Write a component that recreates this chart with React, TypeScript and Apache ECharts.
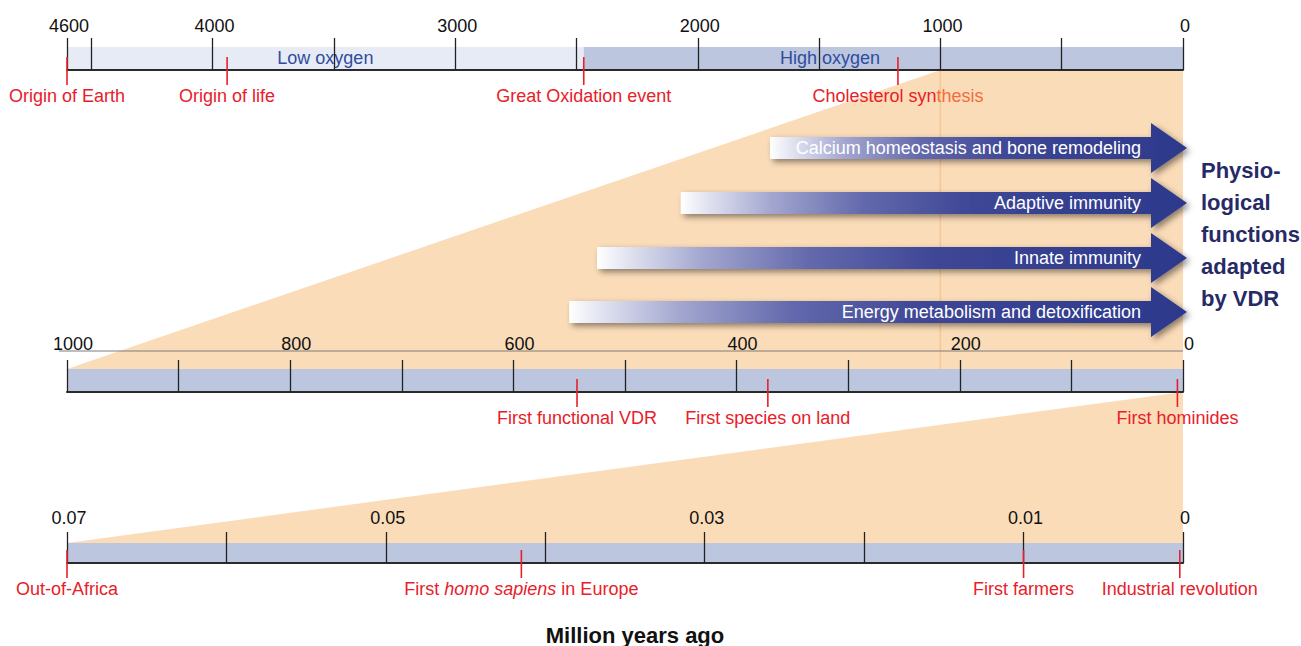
import React, { useEffect, useRef } from 'react';
import * as echarts from 'echarts';

// ---------- data ----------
const topTicks = [4600, 4500, 4000, 3500, 3000, 2500, 2000, 1500, 1000, 500, 0];
const topLabels = [4600, 4000, 3000, 2000, 1000, 0];
const midTicks = [1000, 900, 800, 700, 600, 500, 400, 300, 200, 100, 0];
const midLabels = [1000, 800, 600, 400, 200, 0];
const botTicks = [0.07, 0.06, 0.05, 0.04, 0.03, 0.02, 0.01, 0];
const botLabels = [0.07, 0.05, 0.03, 0.01, 0];

const oxygenPeriods = ['Low oxygen', 'High oxygen'];
const oxygenFrom = [4600, 2470];
const oxygenTo = [2470, 0];
const oxygenLabelAt = [3535, 1455];

const topEventNames = ['Origin of Earth', 'Origin of life', 'Great Oxidation event', 'Cholesterol synthesis'];
const topEventValues = [4600, 3940, 2470, 1175];
const midEventNames = ['First functional VDR', 'First species on land', 'First hominides'];
const midEventValues = [543, 372, 5];
const botEventNames = ['Out-of-Africa', 'First homo sapiens in Europe', 'First farmers', 'Industrial revolution'];
const botEventValues = [0.07, 0.0415, 0.01, 0.0002];

const vdrFunctions = [
  'Calcium homeostasis and bone remodeling',
  'Adaptive immunity',
  'Innate immunity',
  'Energy metabolism and detoxification',
];
const vdrFunctionOrigin = [370, 450, 525, 550];

const zoomTopSpan = 1000; // part of the top scale expanded into the middle one
const zoomMidSpan = 0.07; // part of the middle scale expanded into the bottom one

// ---------- layout / style ----------
const FONT = 'Liberation Sans, Arial, Helvetica, sans-serif';
const LEFT = 67;
const RIGHT = 118;
const rows = [
  { tickTop: 38, bandTop: 47, bandBottom: 70, max: 4600, margin: 3, ticks: topTicks, labels: topLabels, pad: [0, 0, 0, 4] },
  { tickTop: 360, bandTop: 369, bandBottom: 392, max: 1000, margin: 7, ticks: midTicks, labels: midLabels, pad: [0, 0, 0, 12] },
  { tickTop: 532, bandTop: 543, bandBottom: 563, max: 0.07, margin: 5, ticks: botTicks, labels: botLabels, pad: [0, 0, 0, 4] },
];
const ARROW_ROW_Y = [148, 203, 258, 312];
const PEACH = '#fbdcb8';
const BAND = '#bcc6df';
const LIGHT_BAND = '#e7ebf5';
const RED = '#e8202a';
const TINTED_RED = '#f26d40';
const NAVY = '#2c398c';
// label tails that fall inside the peach zoom overlay in the original
const tintedTail: Record<string, string> = { 'Cholesterol synthesis': 'thesis' };

function eventSeries(gridIdx: number, names: string[], values: number[]) {
  return {
    type: 'custom',
    xAxisIndex: gridIdx * 2,
    yAxisIndex: gridIdx,
    clip: false,
    z: 3,
    silent: true,
    data: values.map((v, i) => [v, 0, i]),
    renderItem: (params: any, api: any) => {
      const p = api.coord([api.value(0), 0]);
      const name = names[api.value(2)];
      const base = { fontSize: 18, fontFamily: FONT };
      let textStyle: any;
      if (name.includes('homo sapiens')) {
        const [a, b] = name.split('homo sapiens');
        textStyle = {
          text: `{n|${a}}{i|homo sapiens}{n|${b}}`,
          rich: {
            n: { ...base, fill: RED },
            i: { ...base, fill: RED, fontStyle: 'italic' },
          },
        };
      } else if (tintedTail[name]) {
        const tail = tintedTail[name];
        const head = name.slice(0, name.length - tail.length);
        textStyle = {
          text: `{n|${head}}{t|${tail}}`,
          rich: {
            n: { ...base, fill: RED },
            t: { ...base, fill: TINTED_RED },
          },
        };
      } else {
        textStyle = { text: name };
      }
      return {
        type: 'group',
        children: [
          {
            type: 'line',
            shape: { x1: p[0], y1: p[1] - 13, x2: p[0], y2: p[1] + 15 },
            style: { stroke: RED, lineWidth: 1.6 },
          },
          {
            type: 'text',
            style: {
              ...textStyle,
              x: p[0],
              y: p[1] + 26,
              fill: RED,
              fontSize: 18,
              fontFamily: FONT,
              align: 'center',
              verticalAlign: 'middle',
            },
          },
        ],
      };
    },
  };
}

function bandSeries(gridIdx: number, from: number[], to: number[], colors: string[], names: string[], labelAt: number[]) {
  const r = rows[gridIdx];
  const h = r.bandBottom - r.bandTop;
  return {
    type: 'custom',
    xAxisIndex: gridIdx * 2,
    yAxisIndex: gridIdx,
    clip: false,
    z: -1,
    silent: true,
    data: from.map((f, i) => [f, to[i], labelAt[i] ?? 0, i]),
    renderItem: (params: any, api: any) => {
      const i = api.value(3);
      const a = api.coord([api.value(0), h]);
      const b = api.coord([api.value(1), 0]);
      const children: any[] = [
        {
          type: 'rect',
          shape: { x: Math.min(a[0], b[0]), y: a[1], width: Math.abs(b[0] - a[0]), height: b[1] - a[1] },
          style: { fill: colors[i] },
        },
      ];
      if (names[i]) {
        const c = api.coord([api.value(2), h / 2]);
        children.push({
          type: 'text',
          style: {
            text: names[i],
            x: c[0],
            y: c[1] - 1,
            fill: '#2f4c9e',
            fontSize: 18,
            fontFamily: FONT,
            align: 'center',
            verticalAlign: 'middle',
          },
        });
      }
      return { type: 'group', children };
    },
  };
}

function buildOption() {
  const grid = rows.map((r) => ({
    left: LEFT,
    right: RIGHT,
    top: r.tickTop,
    height: r.bandBottom - r.tickTop,
    containLabel: false,
  }));
  const xAxis: any[] = [];
  rows.forEach((r, i) => {
    xAxis.push({
      type: 'value',
      gridIndex: i,
      min: 0,
      max: r.max,
      inverse: true,
      position: 'bottom',
      axisLine: { show: true, onZero: false, lineStyle: { color: '#2a2a2a', width: 2 } },
      axisTick: {
        show: true,
        inside: true,
        length: r.bandBottom - r.tickTop,
        customValues: r.ticks,
        lineStyle: { color: '#222', width: 1.3 },
      },
      axisLabel: { show: false },
      splitLine: { show: false },
    });
    xAxis.push({
      type: 'value',
      gridIndex: i,
      min: 0,
      max: r.max,
      inverse: true,
      position: 'top',
      axisLine: { show: false, onZero: false },
      axisTick: { show: false },
      splitLine: { show: false },
      axisLabel: {
        show: true,
        customValues: r.labels,
        margin: r.margin,
        padding: r.pad,
        fontSize: 18,
        fontFamily: FONT,
        color: '#111',
        formatter: (v: number) => String(v),
      },
    });
  });
  const yAxis = rows.map((r, i) => ({
    type: 'value',
    gridIndex: i,
    min: 0,
    max: r.bandBottom - r.tickTop,
    show: false,
  }));

  const arrowSeries = {
    type: 'custom',
    xAxisIndex: 2,
    yAxisIndex: 1,
    clip: false,
    z: 10,
    silent: true,
    data: vdrFunctionOrigin.map((v, i) => [v, 0, i]),
    renderItem: (params: any, api: any) => {
      const i = api.value(2);
      const x0 = api.coord([api.value(0), 0])[0];
      const xEnd = api.coord([0, 0])[0];
      const tip = xEnd + 4;
      const xh = tip - 36;
      const c = ARROW_ROW_Y[i];
      const bh = 11;
      const hh = 25;
      return {
        type: 'group',
        children: [
          {
            type: 'polygon',
            shape: {
              points: [
                [x0, c - bh],
                [xh, c - bh],
                [xh, c - hh],
                [tip, c],
                [xh, c + hh],
                [xh, c + bh],
                [x0, c + bh],
              ],
            },
            style: {
              fill: new echarts.graphic.LinearGradient(
                x0,
                0,
                tip,
                0,
                [
                  { offset: 0, color: '#ffffff' },
                  { offset: 0.05, color: '#e2e4f1' },
                  { offset: 0.18, color: '#a2a6cf' },
                  { offset: 0.36, color: '#6369ac' },
                  { offset: 0.58, color: '#3d4695' },
                  { offset: 1, color: NAVY },
                ],
                true
              ),
              shadowBlur: 6,
              shadowColor: 'rgba(0,0,0,0.45)',
              shadowOffsetX: 3,
              shadowOffsetY: 3,
            },
          },
          {
            type: 'text',
            style: {
              text: vdrFunctions[i],
              x: xh - 10,
              y: c,
              fill: '#ffffff',
              fontSize: 18,
              fontFamily: FONT,
              align: 'right',
              verticalAlign: 'middle',
            },
          },
        ],
      };
    },
  };

  return {
    animation: false,
    backgroundColor: '#ffffff',
    grid,
    xAxis,
    yAxis,
    series: [
      bandSeries(0, oxygenFrom, oxygenTo, [LIGHT_BAND, BAND], oxygenPeriods, oxygenLabelAt),
      bandSeries(1, [midTicks[0]], [0], [BAND], [], []),
      bandSeries(2, [botTicks[0]], [0], [BAND], [], []),
      eventSeries(0, topEventNames, topEventValues),
      eventSeries(1, midEventNames, midEventValues),
      eventSeries(2, botEventNames, botEventValues),
      arrowSeries,
    ],
  };
}

export default function App() {
  const ref = useRef<HTMLDivElement>(null);
  useEffect(() => {
    const chart = echarts.init(ref.current!, null, { renderer: 'svg' });
    chart.setOption(buildOption() as any);
    const px = (axis: number, v: number) => chart.convertToPixel({ xAxisIndex: axis } as any, v) as unknown as number;
    const [top, mid, bot] = rows;
    const xT1 = px(0, zoomTopSpan);
    const xT0 = px(0, 0);
    const xM1 = px(2, 1000);
    const xM0 = px(2, 0);
    const xMz = px(2, zoomMidSpan);
    const xB1 = px(4, 0.07);
    const xB0 = px(4, 0);
    chart.setOption({
      graphic: [
        {
          type: 'polygon',
          z: -10,
          silent: true,
          shape: { points: [[xT1, top.bandBottom], [xT0, top.bandBottom], [xM0, mid.bandTop], [xM1, mid.bandTop]] },
          style: { fill: PEACH },
        },
        {
          type: 'line',
          z: -9,
          silent: true,
          shape: { x1: xT1, y1: top.bandBottom, x2: xT1, y2: mid.bandTop },
          style: { stroke: '#f3c895', lineWidth: 1.5 },
        },
        {
          type: 'polygon',
          z: -10,
          silent: true,
          shape: { points: [[xMz, mid.bandBottom], [xM0, mid.bandBottom], [xB0, bot.bandTop], [xB1, bot.bandTop]] },
          style: { fill: PEACH },
        },
        {
          type: 'line',
          z: -4,
          silent: true,
          shape: { x1: xM1 - 8, y1: 351, x2: xM0, y2: 351 },
          style: { stroke: '#7c7c7c', lineWidth: 1 },
        },
        {
          type: 'text',
          z: 10,
          silent: true,
          style: {
            text: 'Physio-\nlogical\nfunctions\nadapted\nby VDR',
            x: 1201,
            y: 154,
            fill: '#262a66',
            fontSize: 22,
            fontWeight: 'bold',
            fontFamily: FONT,
            lineHeight: 32,
            align: 'left',
            verticalAlign: 'top',
          },
        },
        {
          type: 'text',
          z: 10,
          silent: true,
          style: {
            text: 'Million years ago',
            x: 635,
            y: 635,
            fill: '#111',
            fontSize: 22,
            fontWeight: 'bold',
            fontFamily: FONT,
            align: 'center',
            verticalAlign: 'middle',
          },
        },
      ],
    });
    return () => chart.dispose();
  }, []);
  return (
    <div
      ref={ref}
      style={{ position: 'fixed', left: 0, top: 0, width: 1301, height: 646, background: '#ffffff' }}
    />
  );
}
